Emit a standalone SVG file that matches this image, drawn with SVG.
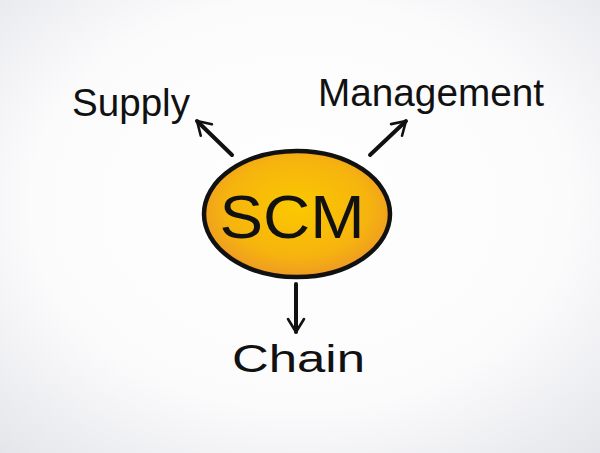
<svg xmlns="http://www.w3.org/2000/svg" width="600" height="453" viewBox="0 0 600 453">
<defs>
<radialGradient id="bg" cx="50%" cy="45%" r="75%">
<stop offset="0" stop-color="#ffffff"/>
<stop offset="0.6" stop-color="#fbfbfc"/>
<stop offset="1" stop-color="#e4e5ea"/>
</radialGradient>
<radialGradient id="fillG" cx="50%" cy="45%" r="55%">
<stop offset="0" stop-color="#fbc800"/>
<stop offset="0.7" stop-color="#f6b40e"/>
<stop offset="1" stop-color="#ee9a24"/>
</radialGradient>
<marker id="ah" viewBox="0 0 10 10" refX="8" refY="5" markerWidth="5" markerHeight="5" orient="auto" markerUnits="strokeWidth">
<path d="M1.5,1 L8,5 L1.5,9" fill="none" stroke="#111" stroke-width="1.3" stroke-linecap="round" stroke-linejoin="round"/>
</marker>
<style>
.lbl{font-family:"Liberation Sans","DejaVu Sans",sans-serif;fill:#111;}
.con{stroke:#111;stroke-width:4;stroke-linecap:round;fill:none;marker-end:url(#ah);}
</style>
</defs>
<rect width="600" height="453" fill="url(#bg)"/>
<g id="connectors">
<line class="con" x1="232" y1="155" x2="197" y2="121"/>
<line class="con" x1="370" y1="155" x2="406" y2="121"/>
<line class="con" x1="296" y1="284" x2="296" y2="332"/>
</g>
<g id="scm">
<ellipse cx="297" cy="214" rx="93" ry="63" fill="url(#fillG)" stroke="#111" stroke-width="4.5"/>
<text class="lbl" x="292" y="238" font-size="62" text-anchor="middle" textLength="145" lengthAdjust="spacingAndGlyphs">SCM</text>
</g>
<g id="supply">
<text class="lbl" x="72" y="116" font-size="38" textLength="118" lengthAdjust="spacingAndGlyphs">Supply</text>
</g>
<g id="management">
<text class="lbl" x="318" y="106" font-size="38" textLength="226" lengthAdjust="spacingAndGlyphs">Management</text>
</g>
<g id="chain">
<text class="lbl" x="232" y="372" font-size="38" textLength="133" lengthAdjust="spacingAndGlyphs">Chain</text>
</g>
</svg>
